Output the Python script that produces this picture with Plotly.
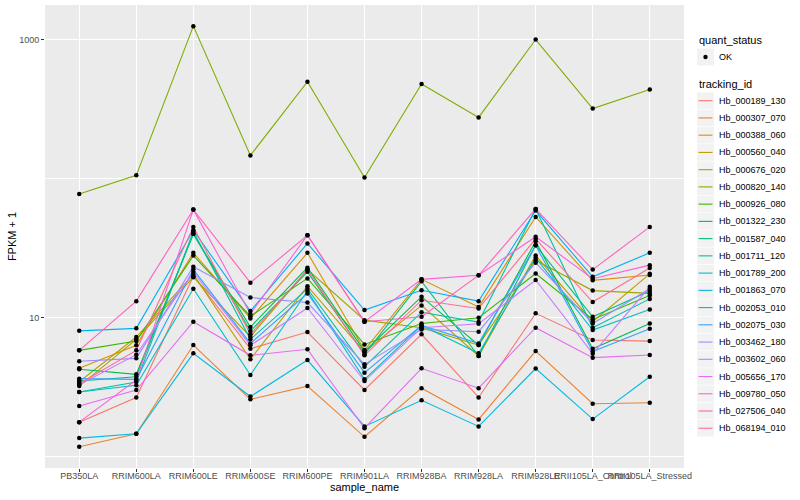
import plotly.graph_objects as go

samples = ["PB350LA", "RRIM600LA", "RRIM600LE", "RRIM600SE", "RRIM600PE", "RRIM901LA",
           "RRIM928BA", "RRIM928LA", "RRIM928LE", "RRII105LA_Control", "RRII105LA_Stressed"]

tracking_ids = ["Hb_000189_130", "Hb_000307_070", "Hb_000388_060", "Hb_000560_040", "Hb_000676_020",
                "Hb_000820_140", "Hb_000926_080", "Hb_001322_230", "Hb_001587_040", "Hb_001711_120",
                "Hb_001789_200", "Hb_001863_070", "Hb_002053_010", "Hb_002075_030", "Hb_003462_180",
                "Hb_003602_060", "Hb_005656_170", "Hb_009780_050", "Hb_027506_040", "Hb_068194_010"]

# FPKM + 1 values per tracking_id, in sample order
Hb_000189_130 = [1.76, 2.65, 19.8, 5.95, 7.84, 3.00, 7.55, 2.65, 10.7, 6.87, 6.75]
Hb_000307_070 = [1.17, 1.45, 6.32, 2.57, 3.20, 1.38, 3.09, 1.84, 5.72, 2.39, 2.43]
Hb_000388_060 = [4.30, 6.29, 29.2, 9.83, 29.2, 5.82, 18.8, 11.9, 53.0, 18.5, 20.2]
Hb_000560_040 = [3.44, 7.22, 20.4, 4.99, 16.8, 5.63, 12.2, 5.27, 27.9, 9.31, 20.6]
Hb_000676_020 = [3.20, 6.95, 19.5, 7.26, 22.1, 9.56, 8.43, 6.32, 25.8, 15.6, 14.9]
Hb_000820_140 = [77.6, 105.6, 1255, 147, 499, 102, 480, 276, 1005, 320, 439]
Hb_000926_080 = [5.79, 6.75, 27.9, 10.2, 19.1, 6.39, 9.05, 9.95, 20.7, 9.67, 14.4]
Hb_001322_230 = [4.23, 3.89, 40.0, 8.52, 22.8, 5.69, 14.1, 6.32, 35.4, 5.95, 9.05]
Hb_001587_040 = [3.48, 3.74, 40.0, 7.97, 21.3, 5.42, 18.2, 5.27, 33.1, 10.1, 15.5]
Hb_001711_120 = [2.90, 3.42, 41.6, 6.95, 16.1, 4.42, 10.9, 9.25, 60.5, 8.43, 13.6]
Hb_001789_200 = [2.90, 3.24, 16.1, 3.85, 15.5, 3.58, 8.76, 5.51, 26.9, 8.10, 11.4]
Hb_001863_070 = [1.35, 1.45, 5.51, 2.69, 4.93, 1.64, 2.53, 1.64, 4.28, 1.85, 3.74]
Hb_002053_010 = [8.00, 8.34, 42.5, 11.1, 34.1, 11.3, 15.7, 13.1, 58.9, 19.6, 29.2]
Hb_002075_030 = [3.62, 3.58, 22.1, 6.50, 14.9, 4.00, 8.76, 6.50, 33.1, 5.67, 8.29]
Hb_003462_180 = [4.83, 5.07, 23.2, 13.9, 12.8, 4.59, 8.20, 7.89, 24.8, 9.05, 16.1]
Hb_003602_060 = [3.27, 5.39, 21.2, 6.29, 11.7, 3.48, 8.43, 9.01, 18.6, 5.48, 16.6]
Hb_005656_170 = [2.30, 3.00, 9.31, 5.33, 5.89, 1.59, 4.30, 3.09, 8.43, 5.13, 5.36]
Hb_009780_050 = [1.76, 3.54, 59.8, 10.6, 39.1, 9.31, 18.8, 20.1, 38.1, 19.0, 23.8]
Hb_027506_040 = [5.79, 13.1, 59.8, 17.8, 39.1, 9.31, 10.1, 20.1, 60.5, 22.1, 44.9]
Hb_068194_010 = [3.33, 5.79, 44.9, 7.55, 22.1, 5.33, 13.3, 11.6, 36.8, 12.9, 22.7]

series_values = [Hb_000189_130, Hb_000307_070, Hb_000388_060, Hb_000560_040, Hb_000676_020,
                 Hb_000820_140, Hb_000926_080, Hb_001322_230, Hb_001587_040, Hb_001711_120,
                 Hb_001789_200, Hb_001863_070, Hb_002053_010, Hb_002075_030, Hb_003462_180,
                 Hb_003602_060, Hb_005656_170, Hb_009780_050, Hb_027506_040, Hb_068194_010]

quant_status = "OK"

y_tickvals = [10, 1000]
y_ticktext = ["10", "1000"]
y_minor_vals = [1, 100]

colors = ["#F8766D", "#EA8331", "#D89000", "#C09B00", "#A3A500", "#7CAE00", "#39B600", "#00BB4E",
          "#00BF7D", "#00C1A3", "#00BFC4", "#00BAE0", "#00B0F6", "#35A2FF", "#9590FF", "#C77CFF",
          "#E76BF3", "#FA62DB", "#FF62BC", "#FF6C91"]

FONT = "Liberation Sans, Arial, sans-serif"
W, H = 800, 500
ML, MR, MT, MB = 45, 116, 5, 32
PW, PH = W - ML - MR, H - MT - MB


def px(x):
    return (x - ML) / PW


def py(y):
    return (H - MB - y) / PH


fig = go.Figure()

for name, vals, col in zip(tracking_ids, series_values, colors):
    fig.add_trace(go.Scatter(
        x=samples, y=vals, mode="lines", name=name,
        line=dict(color=col, width=1.1), showlegend=False,
    ))

all_x = []
all_y = []
for vals in series_values:
    all_x.extend(samples)
    all_y.extend(vals)

fig.add_trace(go.Scatter(
    x=all_x, y=all_y, mode="markers", name=quant_status,
    marker=dict(color="black", size=4.5), showlegend=False,
))

# ---- manual ggplot-style legend ----
shapes = []
annotations = []
KEY_X0, KEY_X1, TEXT_X = 697, 714, 717

annotations.append(dict(text="quant_status", x=px(KEY_X0), y=py(40), xref="paper", yref="paper",
                        xanchor="left", yanchor="middle", showarrow=False,
                        font=dict(family=FONT, size=11, color="black")))
shapes.append(dict(type="rect", xref="paper", yref="paper", x0=px(KEY_X0), x1=px(KEY_X1),
                   y0=py(48.5), y1=py(65.5), fillcolor="#F2F2F2", line=dict(width=0), layer="above"))
shapes.append(dict(type="circle", xref="paper", yref="paper", x0=px(703.3), x1=px(707.7),
                   y0=py(54.8), y1=py(59.2), fillcolor="black", line=dict(width=0), layer="above"))
annotations.append(dict(text=quant_status, x=px(TEXT_X), y=py(57), xref="paper", yref="paper",
                        xanchor="left", yanchor="middle", showarrow=False,
                        font=dict(family=FONT, size=9, color="black")))

annotations.append(dict(text="tracking_id", x=px(KEY_X0), y=py(84), xref="paper", yref="paper",
                        xanchor="left", yanchor="middle", showarrow=False,
                        font=dict(family=FONT, size=11, color="black")))
for i, (name, col) in enumerate(zip(tracking_ids, colors)):
    cy = 100.7 + 17.24 * i
    shapes.append(dict(type="rect", xref="paper", yref="paper", x0=px(KEY_X0), x1=px(KEY_X1),
                       y0=py(cy - 8.3), y1=py(cy + 8.3), fillcolor="#F2F2F2", line=dict(width=0),
                       layer="above"))
    shapes.append(dict(type="line", xref="paper", yref="paper", x0=px(KEY_X0 + 1.5), x1=px(KEY_X1 - 1.5),
                       y0=py(cy), y1=py(cy), line=dict(color=col, width=1.1), layer="above"))
    annotations.append(dict(text=name, x=px(TEXT_X), y=py(cy), xref="paper", yref="paper",
                            xanchor="left", yanchor="middle", showarrow=False,
                            font=dict(family=FONT, size=9, color="black")))

fig.update_layout(
    width=W, height=H,
    paper_bgcolor="white", plot_bgcolor="#EBEBEB",
    margin=dict(l=ML, r=MR, t=MT, b=MB, autoexpand=False),
    font=dict(family=FONT, size=11, color="black"),
    showlegend=False,
    shapes=shapes, annotations=annotations,
    xaxis=dict(
        type="category", categoryorder="array", categoryarray=samples,
        range=[-0.6, len(samples) - 0.4], automargin=False,
        showgrid=True, gridcolor="white", gridwidth=1.1,
        ticks="outside", ticklen=3, tickcolor="#333333", tickwidth=1,
        tickangle=0, ticklabelstandoff=-4,
        tickfont=dict(family=FONT, size=9, color="#4D4D4D"),
        title=dict(text="sample_name", font=dict(family=FONT, size=11, color="black"), standoff=2),
        zeroline=False, showline=False,
    ),
    yaxis=dict(
        type="log", range=[-0.085, 3.251], automargin=False,
        tickvals=y_tickvals, ticktext=y_ticktext,
        showgrid=True, gridcolor="white", gridwidth=1.1,
        ticks="outside", ticklen=3, tickcolor="#333333", tickwidth=1,
        tickfont=dict(family=FONT, size=9, color="#4D4D4D"),
        minor=dict(tickvals=y_minor_vals, showgrid=True, gridcolor="white", gridwidth=0.6, ticks=""),
        title=dict(text="FPKM + 1", font=dict(family=FONT, size=11, color="black"), standoff=0),
        zeroline=False, showline=False,
    ),
)

fig.write_html("out.html", config={"displayModeBar": False},
               post_script="document.body.style.margin='0';document.body.style.overflow='hidden';")
